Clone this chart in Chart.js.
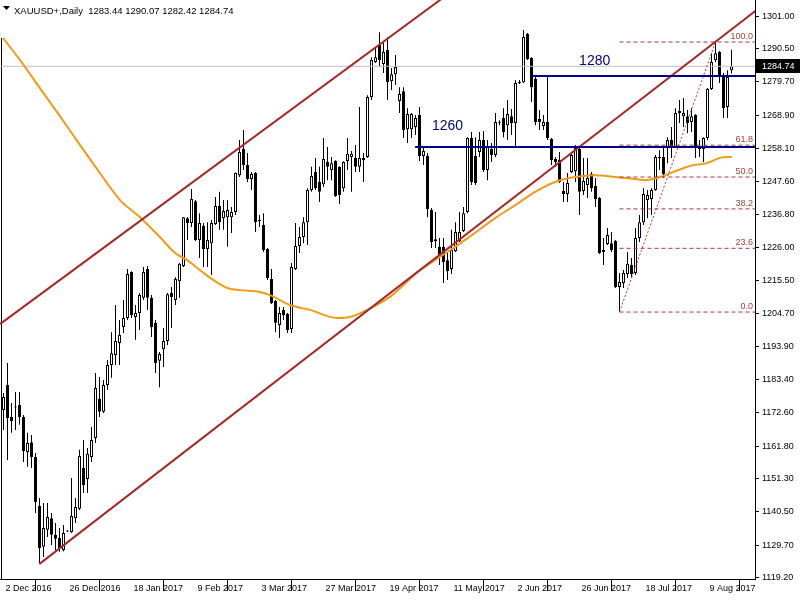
<!DOCTYPE html>
<html><head><meta charset="utf-8">
<script src="https://cdn.jsdelivr.net/npm/chart.js@4/dist/chart.umd.min.js"></script>
<style>html,body{margin:0;padding:0;background:#fff;}canvas{display:block;}</style>
</head><body>
<canvas id="c" width="800" height="600"></canvas>
<script>
// ---------- DATA ----------
const symbolName = 'XAUUSD+,Daily';
const dateLabels = ['2 Dec 2016','26 Dec 2016','18 Jan 2017','9 Feb 2017','3 Mar 2017','27 Mar 2017','19 Apr 2017','11 May 2017','2 Jun 2017','26 Jun 2017','18 Jul 2017','9 Aug 2017'];
const dateTickIndex = [0,16,32,48,64,80,96,112,128,144,160,176];
const priceTicks = [1301.00,1290.50,1279.70,1268.90,1258.10,1247.60,1236.80,1226.00,1215.50,1204.70,1193.90,1183.40,1172.60,1161.80,1151.30,1140.50,1129.70,1119.20];

const opens = [1173.5,1181.6,1171.2,1174.5,1175.1,1171.2,1159.9,1163.1,1158.3,1142.4,
1129.2,1134.7,1138.5,1133.1,1132.1,1128.2,1134.4,1134.0,1138.5,1141.5,
1154.7,1151.2,1158.3,1164.4,1177.1,1172.9,1181.6,1188.1,1191.3,1195.2,
1200.4,1203.3,1218.2,1203.6,1204.9,1209.8,1219.1,1209.8,1201.7,1189.4,
1193.2,1195.8,1211.4,1209.1,1215.2,1220.1,1235.6,1234.0,1241.1,1228.5,
1233.1,1225.6,1227.5,1233.7,1239.5,1235.6,1235.9,1235.9,1237.6,1249.5,
1258.0,1252.8,1248.3,1250.2,1235.0,1233.4,1225.6,1215.9,1208.8,1201.0,
1205.9,1204.6,1199.7,1219.1,1226.6,1229.5,1234.3,1244.7,1250.5,1247.3,
1246.6,1253.8,1251.2,1254.1,1252.2,1245.3,1254.1,1255.4,1255.1,1252.2,
1254.4,1255.4,1274.8,1286.1,1291.6,1285.5,1290.0,1279.9,1282.2,1273.5,
1276.7,1264.4,1264.4,1265.1,1269.0,1255.7,1255.7,1238.2,1228.8,1226.3,
1226.3,1222.0,1219.1,1224.9,1228.2,1231.4,1237.6,1261.5,1255.7,1257.0,
1260.9,1251.2,1258.0,1256.0,1266.7,1268.0,1265.7,1268.6,1266.4,1279.3,
1279.6,1295.2,1287.4,1280.6,1267.7,1265.4,1266.7,1261.2,1254.7,1254.4,
1244.4,1243.4,1250.5,1250.8,1258.0,1244.4,1246.3,1249.9,1246.0,1242.1,
1225.3,1227.2,1227.5,1228.2,1213.3,1214.6,1217.5,1220.4,1217.8,1229.2,
1234.3,1241.5,1241.8,1244.7,1255.4,1255.4,1258.3,1260.9,1258.6,1270.3,
1268.6,1268.6,1266.7,1269.0,1258.6,1258.0,1261.5,1277.4,1286.8,1289.4,
1281.9,1271.6,1283.44];
const highs = [1179.0,1188.7,1175.8,1179.3,1179.3,1171.9,1166.1,1165.4,1159.6,1145.0,
1143.4,1143.4,1140.2,1136.9,1135.3,1136.3,1134.6,1151.5,1145.0,1160.6,
1163.8,1161.2,1168.0,1185.5,1184.2,1183.2,1189.7,1198.7,1207.5,1202.6,
1209.1,1219.1,1218.4,1207.5,1211.4,1219.8,1220.1,1210.7,1202.6,1192.3,
1200.0,1211.4,1213.3,1216.5,1221.1,1236.0,1236.0,1245.0,1241.5,1237.2,
1234.0,1234.3,1235.0,1242.4,1244.1,1241.5,1241.5,1239.2,1250.4,1260.9,
1264.1,1256.7,1250.5,1250.5,1236.6,1237.2,1225.9,1219.1,1209.1,1206.8,
1206.8,1204.9,1221.1,1234.0,1232.7,1235.9,1245.3,1252.2,1255.1,1252.2,
1261.5,1258.6,1255.4,1254.3,1252.4,1254.0,1261.5,1257.3,1259.3,1271.6,
1256.7,1275.4,1287.7,1291.0,1295.8,1292.3,1294.2,1284.2,1288.4,1278.0,
1278.0,1271.2,1269.6,1269.0,1271.6,1258.3,1256.7,1238.9,1237.6,1229.2,
1229.2,1224.6,1231.8,1234.3,1237.6,1239.2,1261.8,1263.5,1261.8,1263.5,
1263.8,1260.9,1259.9,1269.6,1267.3,1271.2,1273.8,1270.9,1280.3,1280.3,
1296.5,1295.5,1287.7,1281.6,1270.6,1269.0,1281.3,1261.5,1255.4,1257.0,
1247.3,1250.2,1256.7,1259.3,1258.6,1255.1,1255.1,1250.5,1248.6,1242.4,
1229.2,1232.4,1231.1,1228.5,1217.8,1218.8,1224.6,1222.7,1232.4,1236.6,
1245.3,1244.7,1245.3,1256.0,1257.6,1258.3,1261.8,1265.1,1271.2,1273.8,
1274.5,1270.6,1271.2,1269.2,1260.9,1261.8,1277.7,1289.0,1292.6,1289.7,
1282.6,1283.5,1290.07];
const lows = [1167.0,1157.3,1166.1,1167.0,1168.7,1156.7,1155.1,1154.7,1140.2,1123.7,
1125.9,1132.4,1129.8,1128.2,1127.6,1127.8,1134.0,1133.8,1136.9,1141.1,
1146.6,1146.6,1156.7,1162.8,1171.2,1172.5,1180.0,1183.9,1188.1,1188.1,
1198.4,1202.6,1203.3,1196.2,1199.4,1209.1,1205.9,1197.1,1185.5,1180.9,
1187.4,1194.5,1200.0,1207.5,1209.8,1219.8,1228.5,1232.7,1228.2,1222.7,
1219.8,1219.8,1217.2,1233.4,1231.8,1231.8,1226.3,1230.8,1236.6,1248.9,
1251.2,1247.3,1244.7,1231.1,1232.7,1224.6,1215.6,1207.8,1198.7,1196.8,
1202.6,1198.4,1198.4,1218.8,1224.3,1227.5,1226.9,1244.1,1244.7,1240.8,
1245.7,1247.9,1247.9,1242.4,1240.2,1244.1,1251.2,1244.1,1250.5,1250.5,
1247.3,1255.1,1273.8,1285.8,1284.5,1282.6,1273.8,1277.1,1278.7,1269.6,
1261.5,1259.9,1261.5,1262.5,1254.1,1252.8,1235.9,1225.9,1225.9,1220.4,
1214.6,1215.6,1217.5,1224.6,1227.9,1231.1,1237.2,1246.3,1246.3,1255.4,
1250.5,1247.9,1253.8,1255.4,1265.7,1261.8,1260.9,1262.5,1258.6,1279.0,
1279.3,1286.8,1273.2,1265.7,1264.1,1264.1,1260.9,1252.8,1252.2,1247.0,
1240.8,1240.8,1250.2,1247.3,1236.6,1243.1,1242.1,1244.1,1239.2,1224.0,
1220.4,1226.9,1224.6,1213.0,1205.2,1213.0,1216.2,1216.5,1217.2,1227.9,
1233.4,1235.6,1236.6,1244.5,1251.2,1248.6,1253.4,1255.1,1258.3,1266.4,
1265.1,1263.1,1263.5,1255.1,1255.4,1253.8,1260.9,1277.1,1286.1,1279.3,
1268.0,1268.0,1282.42];
const closes = [1177.7,1170.9,1169.9,1174.3,1171.2,1160.2,1162.8,1158.3,1143.7,1128.8,
1135.3,1138.9,1133.1,1131.8,1128.8,1133.7,1134.2,1139.2,1142.1,1158.6,
1149.2,1159.3,1163.8,1180.6,1172.9,1181.6,1188.1,1191.9,1195.8,1197.8,
1203.3,1217.5,1204.2,1204.9,1210.7,1218.2,1209.8,1200.4,1188.7,1191.6,
1195.8,1211.0,1210.1,1215.9,1220.8,1235.9,1234.0,1241.8,1228.5,1234.0,
1225.6,1228.5,1234.0,1239.5,1234.3,1237.9,1238.2,1237.6,1250.2,1257.0,
1252.8,1248.3,1249.9,1234.3,1234.6,1225.3,1216.2,1208.1,1201.7,1204.9,
1204.2,1199.4,1219.8,1226.6,1229.5,1234.3,1244.7,1249.2,1245.3,1244.1,
1254.7,1252.2,1253.4,1242.8,1243.1,1253.8,1256.4,1256.4,1252.2,1255.1,
1255.1,1274.8,1286.8,1287.7,1286.8,1289.4,1279.6,1282.2,1284.5,1275.8,
1264.1,1269.3,1269.3,1268.0,1255.7,1257.3,1238.5,1227.9,1228.2,1223.3,
1221.4,1218.5,1225.3,1231.1,1231.1,1237.2,1261.5,1247.3,1247.0,1260.9,
1251.2,1258.6,1256.0,1266.7,1266.5,1263.5,1269.3,1266.4,1279.3,1279.6,
1294.2,1287.1,1278.0,1266.7,1266.7,1266.7,1261.5,1254.4,1253.8,1247.3,
1243.4,1247.0,1256.0,1258.3,1244.1,1247.6,1248.6,1245.3,1241.8,1224.3,
1224.6,1230.1,1225.3,1213.3,1214.9,1217.8,1220.8,1217.5,1229.2,1234.3,
1243.4,1243.1,1244.7,1255.4,1255.1,1249.9,1260.9,1258.3,1269.6,1269.6,
1269.6,1266.4,1268.6,1258.6,1258.0,1261.5,1277.4,1286.1,1289.0,1281.9,
1271.2,1281.3,1284.74];

// moving average (orange) read at sampled bars
const maIndex = [-0.125,4.1,9.1,14.1,19.1,24.1,29.1,34.1,39.1,42.9,45.9,49.1,52.4,55.9,59.1,64.1,66.6,71.6,76.6,83.4,86.6,90.9,96.6,103.6,112.1,117.1,122.9,129.1,132.9,137.9,142.9,147.9,152.9,157.9,160.4,164.1,167.4,171.6,175.9,179.1,182.1];
const maValue = [1293.9,1286.8,1277.7,1268.6,1259.3,1250.2,1241.5,1235.9,1229.5,1224.3,1222.0,1218.8,1215.6,1213.0,1212.3,1211.7,1210.7,1207.5,1205.9,1203.3,1203.6,1205.9,1210.1,1218.2,1225.6,1230.1,1235.6,1240.8,1244.1,1247.3,1248.9,1249.5,1248.9,1248.3,1247.9,1248.9,1250.5,1252.5,1253.4,1255.1,1255.4];

// drawn objects (bar index, price)
const lowerChannel = [[9,1123.7],[195,1309.7]];
const upperChannel = [[-0.875,1201.3],[115,1311.8]];
const hLine1280 = {label:'1280', price:1281.6, from:132, labelAt:[143.9,1285.2]};
const hLine1260 = {label:'1260', price:1258.6, from:102.9, labelAt:[107.1,1264.1]};
const fibFrom = 154, fibTo = 178, fibLow = 1205.2, fibHigh = 1292.6;
const fibLevels = [0, 23.6, 38.2, 50, 61.8, 100];
const leftMarker = {index:-0.5, top:1293.9};

// ---------- CHART ----------
const X_MIN = -0.875, X_MAX = 187.875, Y_MIN = 1118.8, Y_MAX = 1306.2;
const N = closes.length;
const lastClose = closes[N-1];
const pts = arr => arr.map(p => ({x:p[0], y:p[1]}));
const FONT = '"Liberation Sans", Arial, sans-serif';

const datasets = [];
datasets.push({type:'bar', label:'wicks', order:20, grouped:false,
  data: closes.map((c,i)=>({x:i, y:[lows[i], highs[i]]})),
  backgroundColor:'#000', borderWidth:0, barThickness:1, inflateAmount:0, minBarLength:1});
datasets.push({type:'bar', label:'bodies', order:19, grouped:false,
  data: closes.map((c,i)=>({x:i, y:[opens[i], c]})),
  backgroundColor: closes.map((c,i)=> c>=opens[i] ? '#fff' : '#000'),
  borderColor:'#000', borderWidth:1, borderSkipped:false, barThickness:3, inflateAmount:0, minBarLength:1});
const line = (data, color, width, dash, order) => ({type:'line', data, borderColor:color, borderWidth:width, borderDash:dash||[], pointRadius:0, fill:false, order, tension:0});
datasets.push(Object.assign(line(maIndex.map((x,k)=>({x, y:maValue[k]})), '#F29B16', 2, null, 6), {tension:0.4, cubicInterpolationMode:'monotone'}));
datasets.push(line([{x:X_MIN,y:lastClose},{x:X_MAX,y:lastClose}], '#C0C0C0', 1, null, 7));
datasets.push(line([{x:leftMarker.index,y:leftMarker.top},{x:leftMarker.index,y:Y_MIN}], '#000', 1, null, 7));
datasets.push(line(pts(lowerChannel), '#A52A2A', 2, null, 3));
datasets.push(line(pts(upperChannel), '#A52A2A', 2, null, 3));
datasets.push(line([{x:hLine1280.from,y:hLine1280.price},{x:X_MAX,y:hLine1280.price}], '#000080', 2, null, 2));
datasets.push(line([{x:hLine1260.from,y:hLine1260.price},{x:X_MAX,y:hLine1260.price}], '#000080', 2, null, 2));
fibLevels.forEach(l => {
  const p = fibLow + (fibHigh - fibLow) * l / 100;
  datasets.push(line([{x:fibFrom,y:p},{x:X_MAX,y:p}], '#A33A3A', 1, [4,3], 4));
});
datasets.push(line([{x:fibFrom,y:fibLow},{x:fibTo,y:fibHigh}], '#D03030', 1, [2,2], 4));

const overlay = {
  id:'overlay',
  beforeDraw(chart){ const c=chart.ctx; c.save(); c.fillStyle='#fff'; c.fillRect(0,0,chart.width,chart.height); c.restore(); },
  afterDraw(chart){
    const {ctx} = chart, xs = chart.scales.x, ys = chart.scales.y;
    ctx.save();
    // header
    ctx.fillStyle='#000';
    ctx.beginPath(); ctx.moveTo(3,6); ctx.lineTo(10,6); ctx.lineTo(6.5,10); ctx.closePath(); ctx.fill();
    ctx.font='9.5px ' + FONT; ctx.textBaseline='alphabetic'; ctx.textAlign='left';
    ctx.fillText(symbolName + '  ' + [opens[N-1],highs[N-1],lows[N-1],closes[N-1]].map(v=>v.toFixed(2)).join(' '), 14, 14);
    // horizontal line labels
    ctx.fillStyle='#000080'; ctx.font='14px ' + FONT;
    [hLine1280, hLine1260].forEach(h => ctx.fillText(h.label, xs.getPixelForValue(h.labelAt[0]), ys.getPixelForValue(h.labelAt[1])));
    // fib labels
    ctx.fillStyle='#A0403A'; ctx.font='9px ' + FONT; ctx.textAlign='right';
    fibLevels.forEach(l => {
      const p = fibLow + (fibHigh - fibLow) * l / 100;
      ctx.fillText(l.toFixed(1), 753, ys.getPixelForValue(p) - 3);
    });
    // current price box
    const py = Math.round(ys.getPixelForValue(lastClose));
    ctx.fillStyle='#000'; ctx.fillRect(756, py-7, 44, 14);
    ctx.fillStyle='#fff'; ctx.textAlign='left'; ctx.textBaseline='middle';
    ctx.fillText(lastClose.toFixed(2), 762, py+0.5);
    ctx.restore();
  }
};

new Chart(document.getElementById('c'), {
  type:'bar',
  data:{datasets},
  options:{
    responsive:false, animation:false, events:[],
    layout:{padding:0},
    plugins:{legend:{display:false}, tooltip:{enabled:false}, title:{display:false}},
    scales:{
      x:{type:'linear', min:X_MIN, max:X_MAX, offset:false,
        afterBuildTicks: s => { s.ticks = dateTickIndex.map(v=>({value:v})); },
        afterFit: s => { s.height = 21; s.paddingLeft = 0; s.paddingRight = 0; },
        grid:{drawOnChartArea:false, drawTicks:true, tickLength:12, color:'#000', tickColor:'#000'},
        border:{display:true, color:'#000', width:1},
        ticks:{autoSkip:false, maxRotation:0, minRotation:0, align:'start', padding:-8, labelOffset:2,
          color:'#000', font:{family:FONT, size:9},
          callback: v => { const k = dateTickIndex.indexOf(v); return k>=0 ? dateLabels[k] : ''; }}
      },
      y:{type:'linear', position:'right', min:Y_MIN, max:Y_MAX,
        afterBuildTicks: s => { s.ticks = priceTicks.map(v=>({value:v})); },
        afterFit: s => { s.width = 45; s.paddingTop = 0; s.paddingBottom = 0; },
        grid:{drawOnChartArea:false, drawTicks:true, tickLength:4, color:'#000', tickColor:'#000'},
        border:{display:true, color:'#000', width:1},
        ticks:{autoSkip:false, padding:3, color:'#000', font:{family:FONT, size:9},
          callback: v => Number(v).toFixed(2)}
      }
    }
  },
  plugins:[overlay]
});
</script>
</body></html>
